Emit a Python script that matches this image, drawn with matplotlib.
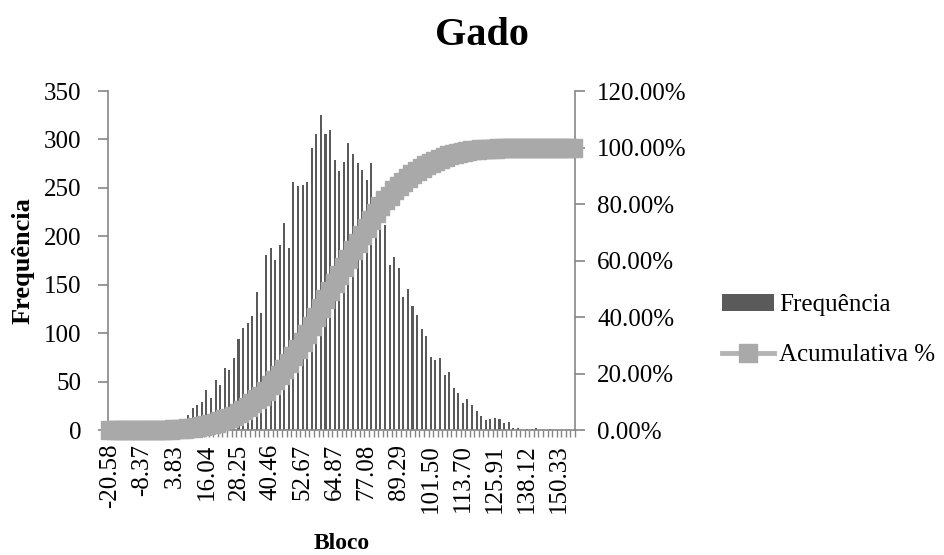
import matplotlib
matplotlib.use('Agg')
import matplotlib.pyplot as plt
from matplotlib.ticker import FuncFormatter
import numpy as np

plt.rcParams['font.family'] = ['Liberation Serif', 'DejaVu Serif']

# frequencia por bloco (102 classes, largura ~1.744)
freq = [0, 0, 0, 0, 0, 0, 0, 0, 1, 1,
        2, 2, 3, 5, 6, 8, 11, 16, 23, 26,
        29, 41, 33, 52, 46, 64, 62, 74, 94, 105,
        110, 118, 143, 121, 181, 188, 176, 191, 214, 188,
        256, 252, 253, 256, 291, 306, 325, 306, 310, 279,
        267, 277, 296, 285, 276, 268, 258, 276, 240, 225,
        212, 170, 179, 167, 137, 146, 128, 119, 104, 97,
        75, 72, 74, 57, 60, 43, 38, 28, 32, 26,
        20, 14, 10, 11, 12, 11, 7, 8, 2, 2,
        0, 1, 1, 2, 0, 0, 1, 0, 0, 0,
        0, 0]

# rotulos mostrados (um a cada 7 classes)
bin_labels = ['-20.58', '-8.37', '3.83', '16.04', '28.25', '40.46', '52.67',
              '64.87', '77.08', '89.29', '101.50', '113.70', '125.91',
              '138.12', '150.33']
label_step = 7

x = np.arange(len(freq))
cum = np.cumsum(freq) / np.sum(freq)

axis_gray = '#868686'

fig = plt.figure(figsize=(9.45, 5.55), dpi=100)
ax = fig.add_axes([0.1143, 0.2252, 0.4942, 0.6108])

bars = ax.bar(x, freq, width=0.45, color='#5a5a5a', label='Frequência', zorder=2)
ax.set_xlim(-0.5, len(freq) - 0.5)
ax.set_ylim(0, 350)
ax.set_yticks(range(0, 351, 50))

ax.set_xticks(x[::label_step][:len(bin_labels)])
ax.set_xticklabels(bin_labels, rotation=90)
ax.set_xticks(np.arange(-0.5, len(freq), 1), minor=True)
ax.tick_params(axis='x', which='major', length=0, pad=10, labelsize=18)
ax.tick_params(axis='x', which='minor', length=5, color=axis_gray, width=1)
ax.tick_params(axis='y', length=7, color=axis_gray, width=1.2, pad=12, labelsize=18)

for s in ['top', 'right']:
    ax.spines[s].set_visible(False)
for s in ['left', 'bottom']:
    ax.spines[s].set_color(axis_gray)
    ax.spines[s].set_linewidth(1.2)

ax.set_ylabel('Frequência', fontsize=19, fontweight='bold', labelpad=7)
ax.set_xlabel('Bloco', fontsize=17, fontweight='bold', labelpad=15)

ax2 = ax.twinx()
line, = ax2.plot(x, cum, color='#b4b4b4', lw=3.5, marker='s', ms=13,
                 mfc='#a9a9a9', mec='#a9a9a9', clip_on=False,
                 label='Acumulativa %', zorder=3)
ax2.set_ylim(0, 1.2)
ax2.set_yticks(np.arange(0, 1.21, 0.2))
ax2.yaxis.set_major_formatter(FuncFormatter(lambda v, p: f'{v * 100:.2f}%'))
ax2.tick_params(axis='y', length=7, color=axis_gray, width=1.2, pad=9, labelsize=18)
for s in ['top', 'left', 'bottom']:
    ax2.spines[s].set_visible(False)
ax2.spines['right'].set_color(axis_gray)
ax2.spines['right'].set_linewidth(1.2)

fig.suptitle('Gado', fontsize=29, fontweight='bold', x=0.51, y=0.97)

fig.legend(handles=[bars, line], loc='center left', bbox_to_anchor=(0.74, 0.405),
           frameon=False, fontsize=18, handlelength=2.1, handletextpad=0.2,
           labelspacing=1.1)

fig.savefig('out.png', dpi=100)
